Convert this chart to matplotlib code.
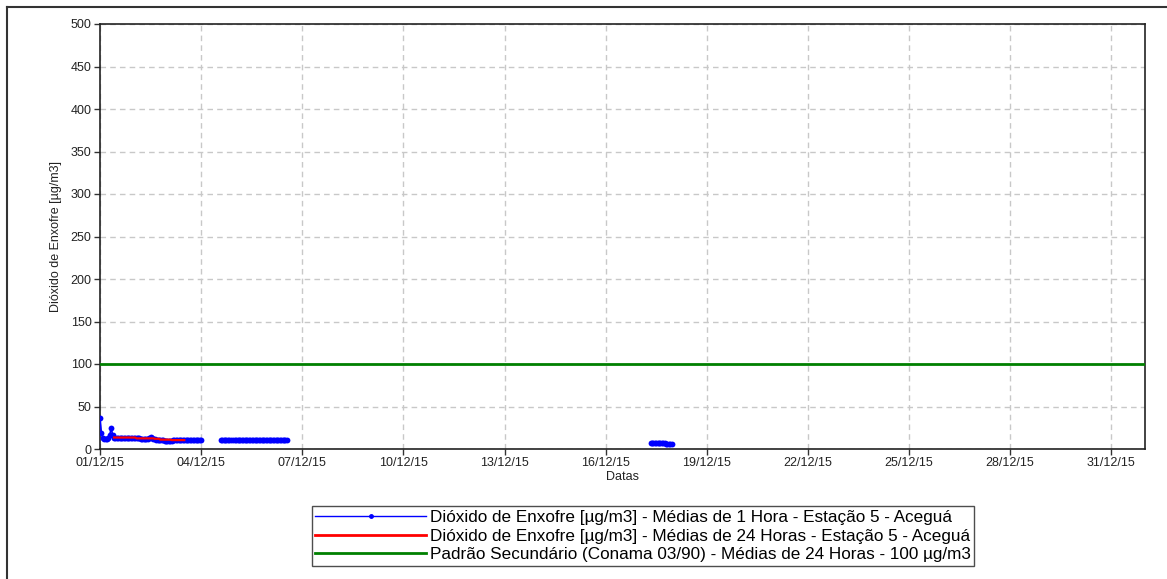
import numpy as np
import matplotlib
matplotlib.use("Agg")
import matplotlib.pyplot as plt
import matplotlib.dates as mdates
from matplotlib.lines import Line2D
import datetime as dt

plt.rcParams['font.family'] = ['Liberation Sans', 'DejaVu Sans']

# ---- data ----
# hourly SO2, segment 1: 01/12 00h .. 04/12 00h
seg1_start = dt.datetime(2015, 12, 1, 0)
seg1_values = [37, 19, 13, 12, 12, 12, 13, 17, 25, 16, 13, 13, 13, 13, 13, 13, 13, 13, 13, 13, 13, 13, 13, 13,
               13, 13, 13, 13, 13, 12, 12, 12, 12, 12, 12, 13, 14.5, 13, 12, 12, 11, 11, 11, 11, 11, 11, 10, 10,
               9, 9, 10, 10, 11, 11, 11, 11, 11, 11, 11, 11, 11, 11, 11, 11, 11, 11, 11, 11, 11, 11, 11, 11, 11]
# segment 2: 04/12 14h .. 06/12 13h (one missing hour)
seg2_start = dt.datetime(2015, 12, 4, 14)
seg2_values = [11, 11, 11, 11, 11, 11, 11, 11, float('nan'), 11, 11, 11, 11, 11, 11, 11, 11, 11, 11, 11, 11, 11, 11, 11,
               11, 11, 11, 11, 11, 11, 11, 11, 11, 11, 11, 11, 11, 11, 11, 11, 11, 11, 11, 11, 11, 11, 11, 11]
# segment 3: 17/12 08h .. 17/12 23h
seg3_start = dt.datetime(2015, 12, 17, 8)
seg3_values = [7.5, 7.5, 7.5, 7.5, 7.5, 7.5, 7.5, 7.5, 7.5, 7.5, 7, 6, 6, 6, 6, 6]

# 24-hour means: 01/12 10h .. 03/12 14h
red_start = dt.datetime(2015, 12, 1, 10)
red_values = [13.5, 13.5, 13.5, 13.5, 13.5, 13.5, 13.5, 13.5, 13.5, 13.5, 13.5, 13.5, 13.5, 13.5, 13.5, 13.5,
              12.5, 12.5, 12.5, 12.5, 12.5, 12.5, 12.5, 12.5, 12.5, 12.5, 12.5, 12.5, 12.5,
              12, 12, 12, 12, 11, 11, 11, 11, 11, 11, 11, 11,
              10.5, 10.5, 10.5, 10.5, 10.5, 10.5, 10.5, 10.5, 10.5, 10.5]

standard_value = 100
x_start = dt.datetime(2015, 12, 1)
x_end = dt.datetime(2016, 1, 1)
x_tick_days = [1, 4, 7, 10, 13, 16, 19, 22, 25, 28, 31]
y_ticks = [0, 50, 100, 150, 200, 250, 300, 350, 400, 450, 500]

legend_labels = [
    "Dióxido de Enxofre [µg/m3] - Médias de 1 Hora - Estação 5 - Aceguá",
    "Dióxido de Enxofre [µg/m3] - Médias de 24 Horas - Estação 5 - Aceguá",
    "Padrão Secundário (Conama 03/90) - Médias de 24 Horas - 100 µg/m3",
]


def hours(start, n):
    return [start + dt.timedelta(hours=i) for i in range(n)]


W, H = 1167, 579
fig = plt.figure(figsize=(W / 100, H / 100), dpi=100)
ax = fig.add_axes([100 / W, 1 - 449 / H, (1145 - 100) / W, (449 - 24) / H])

blue = '#0000ff'
for start, vals in [(seg1_start, seg1_values), (seg2_start, seg2_values), (seg3_start, seg3_values)]:
    ax.plot(hours(start, len(vals)), vals, color=blue, lw=1.2, marker='o', ms=4.2,
            markeredgewidth=0, zorder=3)
ax.plot(hours(red_start, len(red_values)), red_values, color='#ff0000', lw=1.6, zorder=4)
ax.plot([x_start, x_end], [standard_value, standard_value], color='#008000', lw=2, zorder=3)

ax.set_xlim(x_start, x_end)
ax.set_ylim(0, 500)
ax.set_yticks(y_ticks)
ax.set_xticks([mdates.date2num(dt.datetime(2015, 12, d)) for d in x_tick_days])
ax.xaxis.set_major_formatter(mdates.DateFormatter('%d/%m/%y'))
ax.grid(True, color='#c8c8c8', linestyle=(0, (4, 3)), lw=1)
ax.tick_params(axis='both', labelsize=9, length=4, width=1, color='#333333',
               labelcolor='#222222', pad=2)
for s in ax.spines.values():
    s.set_color('#222222')
    s.set_linewidth(1.2)
ax.set_ylabel('Dióxido de Enxofre [µg/m3]', fontsize=9, labelpad=6, color='#222222')
ax.set_xlabel('Datas', fontsize=9, labelpad=1, color='#222222')

handles = [
    Line2D([], [], color=blue, lw=1, marker='o', ms=2.5, markevery=[1]),
    Line2D([], [], color='#ff0000', lw=2),
    Line2D([], [], color='#008000', lw=2),
]
leg = fig.legend(handles, legend_labels, loc='center', bbox_to_anchor=(643 / W, 1 - 536 / H),
                 fontsize=12.3, handlelength=6.5, handletextpad=0.2, labelspacing=0.22,
                 borderpad=0.2, borderaxespad=0, fancybox=False, frameon=True, edgecolor='#222222')
leg.get_frame().set_linewidth(1)

# outer frame
fig.add_artist(Line2D([7 / W, 7 / W], [0, 1 - 7 / H], color='#333333', lw=1.5, transform=fig.transFigure))
fig.add_artist(Line2D([7 / W, 1], [1 - 7 / H, 1 - 7 / H], color='#333333', lw=1.5, transform=fig.transFigure))

fig.savefig('out.png', dpi=100)
